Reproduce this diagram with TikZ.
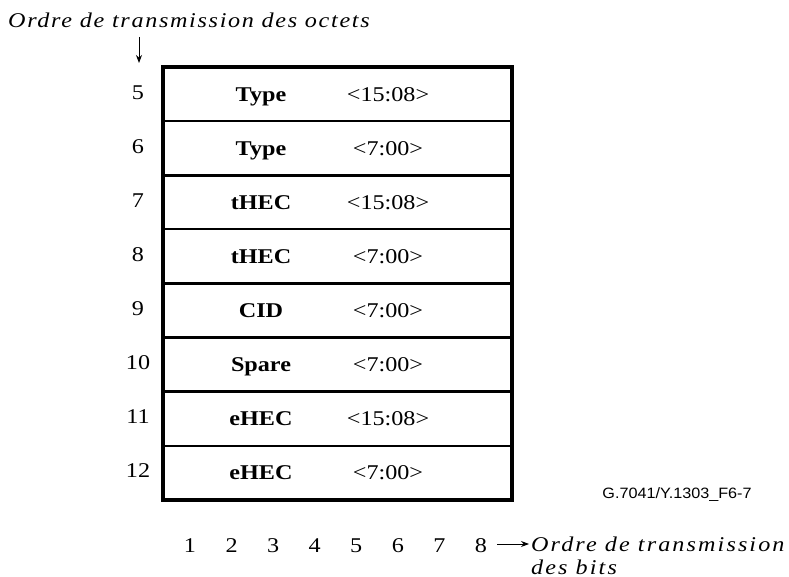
\documentclass[tikz,border=0pt]{standalone}
\usepackage{fontspec}
\setmainfont[FakeStretch=1.15]{Liberation Serif}
\newfontfamily\arialfont[FakeStretch=1.08]{Liberation Sans}
\newfontfamily\spacedfont[FakeStretch=1.15,LetterSpace=8]{Liberation Serif}
\newfontfamily\widespacedfont[FakeStretch=1.15,LetterSpace=10]{Liberation Serif}
\usetikzlibrary{arrows.meta}
\begin{document}
\begin{tikzpicture}[x=1pt,y=-1pt,
  font=\fontsize{21}{24}\selectfont,
  thickline/.style={line width=3.2pt},
  thinline/.style={line width=1.8pt},
  numlabel/.style={inner sep=0pt,anchor=base},
  fieldname/.style={inner sep=0pt,anchor=base,font=\fontsize{21}{24}\selectfont\bfseries},
  bitrange/.style={inner sep=0pt,anchor=base},
  spacedtext/.style={inner sep=0pt,anchor=base west,font=\fontsize{21}{24}\selectfont\spacedfont\itshape},
  widetext/.style={inner sep=0pt,anchor=base west,font=\fontsize{21}{24}\selectfont\widespacedfont\itshape},
  arrowline/.style={line width=0.9pt,-{Stealth[length=8pt,width=6pt]}}
]
\useasboundingbox (0,0) rectangle (789,577);

% separators
\foreach \k/\s in {1/thinline,2/thickline,3/thinline,4/thickline,5/thickline,6/thickline,7/thinline}{
  \draw[\s] (163,{67+54.125*\k}) -- (512,{67+54.125*\k});
}
% outer frame
\draw[thickline] (163,67) rectangle (512,500);

% rows
\foreach \i/\n/\f/\b in {1/5/Type/{<15:08>},2/6/Type/{<7:00>},3/7/tHEC/{<15:08>},4/8/tHEC/{<7:00>},5/9/CID/{<7:00>},6/10/Spare/{<7:00>},7/11/eHEC/{<15:08>},8/12/eHEC/{<7:00>}}{
  \node[numlabel] (n\n) at (138,{67+54.125*(\i-0.5)+5}) {\n};
  \node[fieldname] (f\n) at (261,{67+54.125*(\i-0.5)+7}) {\f};
  \node[bitrange] (b\n) at (388,{67+54.125*(\i-0.5)+7}) {\b};
}

% title
\node[spacedtext] (title) at (8,28) {Ordre de transmission des octets};
\coordinate (ta) at (139,37);
\coordinate (tb) at (139,63);
\draw[arrowline] (ta) -- (tb);

% bit numbers
\foreach \j in {1,...,8}{
  \node[numlabel] (c\j) at ({190+41.57*(\j-1)},552) {\j};
}
\node[widetext] (bt1) at (531,551) {Ordre de transmission};
\node[widetext] (bt2) at (531,574) {des bits};
\coordinate (as) at (497,544);
\coordinate (ae) at (529,544);
\draw[arrowline] (as) -- (ae);

% figure reference
\node[inner sep=0pt,font=\fontsize{15}{17}\selectfont\arialfont] (ref) at (677,495) {G.7041/Y.1303\_F6-7};
\end{tikzpicture}
\end{document}
